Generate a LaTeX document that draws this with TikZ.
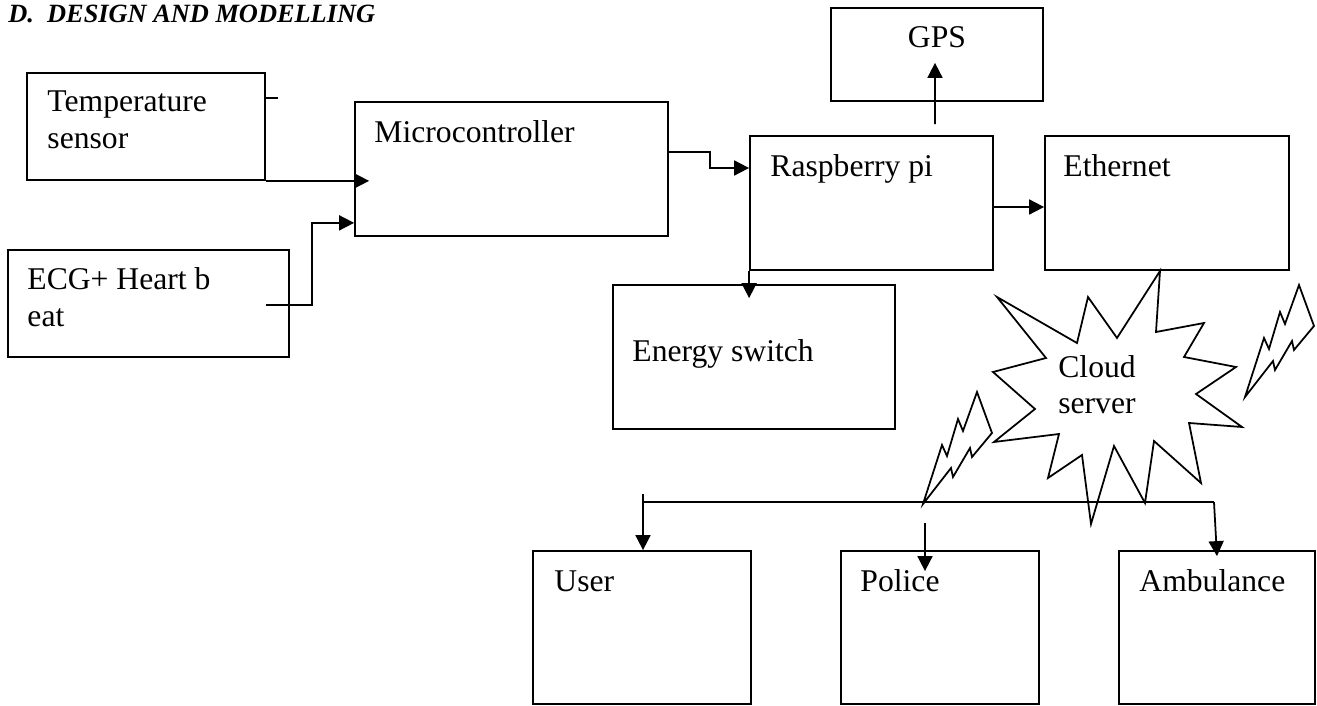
\documentclass[tikz,border=0pt]{standalone}
\usepackage{fontspec}
\setmainfont{Liberation Serif}
\usetikzlibrary{arrows.meta,positioning,calc}
\tikzset{
  blk/.style={draw,line width=1pt,inner sep=0pt},
  lbl/.style={anchor=base west,inner sep=0pt,align=left,font=\fontsize{18}{21}\selectfont},
  arr/.style={-{Triangle[length=3mm,width=3mm]},line width=1pt},
  ln/.style={line width=1pt},
  bolt/.pic={\draw[ln] (0,0) -- (0.38,1.18) -- (0.48,0.96) -- (0.70,1.70) -- (0.80,1.46) -- (1.08,2.24) -- (1.38,1.42) -- (0.98,0.94) -- (0.94,1.12) -- (0.60,0.54) -- (0.56,0.72) -- cycle;}
}

\begin{document}
\begin{tikzpicture}
\useasboundingbox (0,0) rectangle (26.34,-14.12);
\node[anchor=base west,inner sep=0pt,font=\fontsize{15}{18}\selectfont\bfseries\itshape] (title) at (0.16,-0.46) {D.\ \ DESIGN AND MODELLING};

\node[blk,minimum width=4.76cm,minimum height=2.14cm] (temp) at (2.92,-2.53) {};
\node[blk,minimum width=5.62cm,minimum height=2.14cm] (ecg) at (2.97,-6.07) {};
\node[blk,minimum width=6.26cm,minimum height=2.68cm] (micro) at (10.23,-3.38) {};
\node[blk,minimum width=4.86cm,minimum height=2.68cm] (rasp) at (17.43,-4.06) {};
\node[blk,minimum width=4.24cm,minimum height=1.86cm] (gps) at (18.74,-1.09) {};
\node[blk,minimum width=4.88cm,minimum height=2.68cm] (eth) at (23.34,-4.06) {};
\node[blk,minimum width=5.64cm,minimum height=2.88cm] (energy) at (15.08,-7.14) {};
\node[blk,minimum width=4.36cm,minimum height=3.06cm] (user) at (12.84,-12.55) {};
\node[blk,minimum width=3.96cm,minimum height=3.06cm] (police) at (18.80,-12.55) {};
\node[blk,minimum width=3.92cm,minimum height=3.06cm] (amb) at (24.34,-12.55) {};

\node[lbl] (templbl) at ([shift={(0.42,-1.52)}]temp.north west) {Temperature\\sensor};
\node[lbl] (ecglbl) at ([shift={(0.40,-1.54)}]ecg.north west) {ECG+ Heart b\\eat};
\node[lbl] (microlbl) at ([shift={(0.40,-0.82)}]micro.north west) {Microcontroller};
\node[lbl] (rasplbl) at ([shift={(0.42,-0.82)}]rasp.north west) {Raspberry pi};
\node[lbl,anchor=base] (gpslbl) at ([shift={(0,-0.80)}]gps.north) {GPS};
\node[lbl] (ethlbl) at ([shift={(0.38,-0.82)}]eth.north west) {Ethernet};
\node[lbl] (energylbl) at ([shift={(0.40,-1.54)}]energy.north west) {Energy switch};
\node[lbl] (userlbl) at ([shift={(0.44,-0.82)}]user.north west) {User};
\node[lbl] (policelbl) at ([shift={(0.40,-0.82)}]police.north west) {Police};
\node[lbl] (amblbl) at ([shift={(0.42,-0.82)}]amb.north west) {Ambulance};

\draw[ln] ($(temp.north east)+(0,-0.52)$) -- ++(0.24,0);
\draw[arr] (temp.south east) -- ($(temp.south east -| micro.west)+(0.3,0)$);
\draw[arr] ($(ecg.east)+(-0.48,-0.03)$) -- ++(0.92,0) |- ($(micro.south west)+(0,0.28)$);
\draw[arr] ($(micro.east)+(0,0.34)$) -- ++(0.82,0) |- ($(rasp.west)+(0,0.70)$);
\draw[arr] ($(rasp.north)+(1.27,0.22)$) -- ($(gps.south)+(-0.04,0.78)$);
\draw[arr] ($(rasp.east)+(0,-0.08)$) -- ($(eth.west)+(0,-0.08)$);
\draw[arr] (rasp.south west) -- ($(rasp.south west |- energy.north)+(0,-0.28)$);

\draw[ln] (23.20,-5.42) -- (23.12,-6.64) -- (24.08,-6.46) -- (23.68,-7.14) -- (24.72,-7.34)
  -- (23.92,-7.88) -- (24.84,-8.54) -- (23.78,-8.46) -- (24.02,-9.66) -- (23.08,-8.82)
  -- (22.90,-10.06) -- (22.28,-8.92) -- (21.82,-10.48) -- (21.64,-9.10) -- (20.96,-9.56)
  -- (21.18,-8.68) -- (19.88,-8.84) -- (20.70,-8.18) -- (19.86,-7.44) -- (20.92,-7.16)
  -- (19.94,-5.94) -- (21.54,-6.86) -- (21.76,-5.94) -- (22.34,-6.76) -- cycle;
\node[lbl] (cloud) at (21.16,-8.28) {Cloud\\server};
\pic at (18.46,-10.08) {bolt};
\pic at (24.90,-7.94) {bolt};

\coordinate (busW) at ($(user.north)+(0.02,0.96)$);
\coordinate (busE) at ($(amb.north)+(-0.06,0.96)$);
\draw[ln] (busW) -- (busE);
\draw[arr] ($(busW)+(0,0.16)$) -- ($(user.north)+(0.02,0)$);
\draw[arr] (busE) -- ($(amb.north)+(0,-0.12)$);
\draw[arr] ($(police.north)+(-0.30,0.54)$) -- ($(police.north)+(-0.30,-0.42)$);
\end{tikzpicture}
\end{document}
